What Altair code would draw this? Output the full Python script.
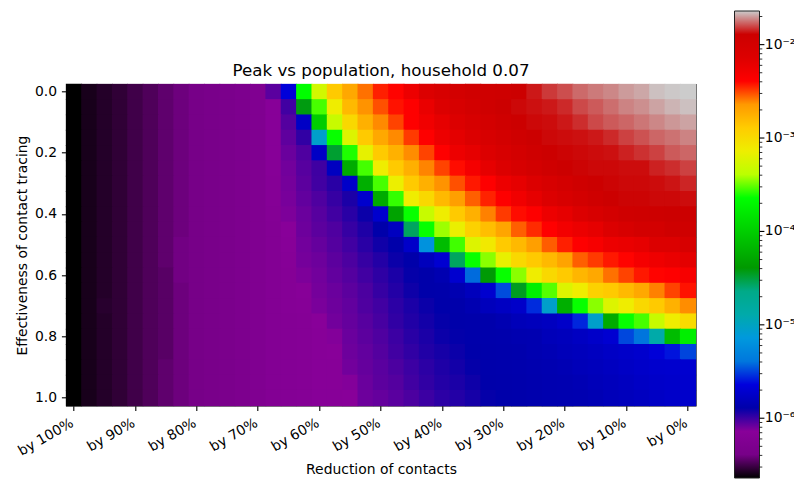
import altair as alt
import numpy as np
import pandas as pd

# ---------------- data ----------------
# columns: reduction of contacts (percent), left to right
reduction_pct = [100, 97.5, 95, 92.5, 90, 87.5, 85, 82.5, 80, 77.5, 75, 72.5, 70,
                 67.5, 65, 62.5, 60, 57.5, 55, 52.5, 50, 47.5, 45, 42.5, 40, 37.5,
                 35, 32.5, 30, 27.5, 25, 22.5, 20, 17.5, 15, 12.5, 10, 7.5, 5, 2.5, 0]
# rows: effectiveness of contact tracing, top to bottom
tracing = [0.0, 0.05, 0.1, 0.15, 0.2, 0.25, 0.3, 0.35, 0.4, 0.45, 0.5,
           0.55, 0.6, 0.65, 0.7, 0.75, 0.8, 0.85, 0.9, 0.95, 1.0]

x_tick_values = [100, 90, 80, 70, 60, 50, 40, 30, 20, 10, 0]
y_tick_values = [0.0, 0.2, 0.4, 0.6, 0.8, 1.0]
cbar_tick_values = [-6, -5, -4, -3, -2]
cbar_tick_labels = ["10⁻⁶", "10⁻⁵", "10⁻⁴", "10⁻³", "10⁻²"]
title_text = "Peak vs population, household 0.07"

# log10(peak / population), one list per tracing row (41 values each)
log_peak_rows = [
    [-6.64, -6.59, -6.565, -6.54, -6.505, -6.475, -6.44, -6.41, -6.39, -6.365, -6.33, -6.30, -6.26,
     -6.055, -5.66, -3.65, -3.28, -2.88, -2.715, -2.575, -2.44,
     -2.395, -2.255, -2.13, -2.055, -1.995, -1.955, -1.93, -1.92, -1.89, -1.86,
     -1.82, -1.795, -1.76, -1.74, -1.725, -1.70, -1.685, -1.655, -1.645, -1.64],
    [-6.64, -6.59, -6.565, -6.54, -6.505, -6.475, -6.44, -6.41, -6.39, -6.365, -6.33, -6.30, -6.26,
     -6.15, -6.01, -4.42, -3.545, -3.13, -2.795, -2.63, -2.52,
     -2.42, -2.38, -2.235, -2.13, -2.055, -1.995, -1.93, -1.89, -1.88, -1.87,
     -1.86, -1.84, -1.80, -1.78, -1.755, -1.73, -1.715, -1.69, -1.67, -1.655],
    [-6.64, -6.59, -6.565, -6.54, -6.505, -6.475, -6.44, -6.41, -6.39, -6.365, -6.33, -6.30, -6.26,
     -6.15, -6.045, -5.76, -4.005, -3.33, -2.98, -2.755, -2.615,
     -2.50, -2.385, -2.285, -2.205, -2.13, -2.055, -1.995, -1.93, -1.89, -1.88,
     -1.875, -1.86, -1.835, -1.80, -1.78, -1.765, -1.745, -1.725, -1.705, -1.69],
    [-6.64, -6.59, -6.565, -6.54, -6.505, -6.475, -6.44, -6.41, -6.39, -6.365, -6.33, -6.30, -6.26,
     -6.15, -6.065, -5.98, -5.045, -3.63, -3.23, -2.88, -2.715,
     -2.615, -2.485, -2.38, -2.255, -2.19, -2.13, -2.055, -1.995, -1.93, -1.89,
     -1.88, -1.875, -1.87, -1.86, -1.84, -1.81, -1.79, -1.765, -1.75, -1.73],
    [-6.64, -6.59, -6.565, -6.54, -6.505, -6.475, -6.44, -6.41, -6.39, -6.365, -6.33, -6.30, -6.26,
     -6.16, -6.085, -6.035, -5.76, -4.48, -3.60, -3.18, -2.88,
     -2.76, -2.62, -2.50, -2.38, -2.255, -2.205, -2.13, -2.055, -1.995, -1.93,
     -1.89, -1.885, -1.88, -1.875, -1.87, -1.85, -1.83, -1.81, -1.78, -1.765],
    [-6.64, -6.59, -6.565, -6.54, -6.505, -6.475, -6.44, -6.41, -6.39, -6.365, -6.33, -6.30, -6.26,
     -6.17, -6.10, -6.05, -6.005, -5.78, -4.255, -3.55, -3.13,
     -2.88, -2.755, -2.605, -2.50, -2.41, -2.32, -2.205, -2.13, -2.055, -1.995,
     -1.93, -1.89, -1.885, -1.88, -1.88, -1.875, -1.875, -1.85, -1.835, -1.81],
    [-6.64, -6.59, -6.565, -6.54, -6.505, -6.475, -6.44, -6.41, -6.39, -6.365, -6.33, -6.30, -6.26,
     -6.18, -6.105, -6.06, -6.01, -5.965, -5.74, -4.23, -3.545,
     -3.15, -2.88, -2.755, -2.63, -2.52, -2.43, -2.38, -2.255, -2.205, -2.13,
     -2.055, -1.995, -1.93, -1.89, -1.885, -1.88, -1.88, -1.875, -1.865, -1.845],
    [-6.64, -6.59, -6.565, -6.54, -6.505, -6.475, -6.44, -6.41, -6.39, -6.365, -6.33, -6.30, -6.26,
     -6.19, -6.11, -6.07, -6.035, -5.99, -5.94, -5.72, -4.255,
     -3.57, -3.13, -2.98, -2.795, -2.67, -2.545, -2.445, -2.38, -2.285, -2.205,
     -2.13, -2.055, -1.995, -1.93, -1.89, -1.885, -1.885, -1.88, -1.88, -1.875],
    [-6.64, -6.59, -6.565, -6.54, -6.505, -6.475, -6.44, -6.41, -6.39, -6.365, -6.33, -6.30, -6.26,
     -6.20, -6.12, -6.085, -6.05, -6.01, -5.965, -5.91, -5.72,
     -4.32, -3.63, -3.33, -3.13, -2.88, -2.755, -2.60, -2.485, -2.41, -2.38,
     -2.255, -2.205, -2.13, -2.055, -1.995, -1.93, -1.925, -1.90, -1.89, -1.89],
    [-6.64, -6.59, -6.565, -6.54, -6.505, -6.475, -6.44, -6.41, -6.39, -6.365, -6.33, -6.30, -6.26,
     -6.21, -6.14, -6.09, -6.06, -6.035, -5.99, -5.945, -5.89,
     -5.78, -4.565, -3.63, -3.43, -3.16, -2.93, -2.82, -2.70, -2.545, -2.46,
     -2.39, -2.30, -2.25, -2.205, -2.13, -2.055, -1.995, -1.99, -1.93, -1.93],
    [-6.64, -6.59, -6.565, -6.54, -6.505, -6.475, -6.44, -6.40, -6.39, -6.365, -6.33, -6.30, -6.26,
     -6.21, -6.16, -6.10, -6.075, -6.045, -6.01, -5.965, -5.92,
     -5.89, -5.74, -5.195, -4.13, -3.555, -3.23, -3.10, -2.88, -2.795, -2.67,
     -2.54, -2.44, -2.38, -2.33, -2.255, -2.235, -2.205, -2.13, -2.12, -2.055],
    [-6.64, -6.59, -6.565, -6.54, -6.505, -6.475, -6.44, -6.40, -6.39, -6.365, -6.33, -6.30, -6.26,
     -6.22, -6.17, -6.105, -6.09, -6.06, -6.03, -5.99, -5.955,
     -5.91, -5.89, -5.80, -5.70, -4.565, -3.63, -3.455, -3.17, -2.98, -2.88,
     -2.795, -2.69, -2.545, -2.485, -2.43, -2.395, -2.32, -2.27, -2.235, -2.19],
    [-6.64, -6.59, -6.565, -6.54, -6.505, -6.475, -6.455, -6.40, -6.39, -6.365, -6.33, -6.30, -6.26,
     -6.22, -6.18, -6.12, -6.10, -6.07, -6.045, -6.01, -5.975,
     -5.94, -5.90, -5.89, -5.855, -5.71, -5.415, -4.40, -3.63, -3.455, -3.13,
     -2.98, -2.88, -2.78, -2.715, -2.575, -2.50, -2.43, -2.395, -2.38, -2.33],
    [-6.64, -6.59, -6.565, -6.54, -6.505, -6.475, -6.455, -6.41, -6.39, -6.365, -6.33, -6.30, -6.26,
     -6.22, -6.19, -6.16, -6.105, -6.085, -6.06, -6.03, -5.99,
     -5.955, -5.915, -5.89, -5.885, -5.855, -5.80, -5.71, -5.48, -4.45, -3.755,
     -3.525, -3.23, -3.13, -2.93, -2.88, -2.795, -2.715, -2.60, -2.50, -2.42],
    [-6.64, -6.59, -6.555, -6.54, -6.505, -6.475, -6.455, -6.41, -6.39, -6.365, -6.33, -6.30, -6.26,
     -6.22, -6.19, -6.17, -6.115, -6.09, -6.07, -6.035, -6.01,
     -5.97, -5.94, -5.91, -5.89, -5.885, -5.855, -5.80, -5.77, -5.74, -5.55,
     -5.045, -4.23, -3.63, -3.455, -3.23, -3.13, -2.98, -2.88, -2.76, -2.62],
    [-6.64, -6.59, -6.565, -6.54, -6.505, -6.475, -6.455, -6.41, -6.39, -6.365, -6.33, -6.30, -6.26,
     -6.22, -6.20, -6.18, -6.14, -6.10, -6.075, -6.05, -6.02,
     -5.98, -5.95, -5.925, -5.90, -5.89, -5.885, -5.88, -5.855, -5.815, -5.80,
     -5.78, -5.74, -5.56, -5.045, -4.255, -3.63, -3.545, -3.33, -3.13, -3.00],
    [-6.64, -6.59, -6.565, -6.54, -6.505, -6.475, -6.455, -6.41, -6.39, -6.365, -6.33, -6.30, -6.26,
     -6.22, -6.20, -6.18, -6.16, -6.13, -6.085, -6.06, -6.035,
     -6.00, -5.965, -5.94, -5.91, -5.895, -5.885, -5.88, -5.875, -5.86, -5.855,
     -5.815, -5.80, -5.77, -5.74, -5.70, -5.49, -5.395, -4.88, -4.13, -3.755],
    [-6.64, -6.59, -6.565, -6.54, -6.505, -6.475, -6.455, -6.41, -6.39, -6.365, -6.33, -6.30, -6.26,
     -6.22, -6.20, -6.18, -6.16, -6.14, -6.09, -6.07, -6.045,
     -6.01, -5.98, -5.95, -5.93, -5.91, -5.89, -5.885, -5.88, -5.875, -5.855,
     -5.84, -5.815, -5.80, -5.78, -5.76, -5.74, -5.72, -5.665, -5.60, -5.495],
    [-6.64, -6.59, -6.565, -6.54, -6.505, -6.475, -6.44, -6.41, -6.39, -6.365, -6.33, -6.30, -6.26,
     -6.22, -6.20, -6.18, -6.16, -6.15, -6.10, -6.075, -6.055,
     -6.03, -6.00, -5.97, -5.945, -5.925, -5.90, -5.885, -5.88, -5.875, -5.865,
     -5.855, -5.84, -5.815, -5.80, -5.78, -5.76, -5.74, -5.72, -5.715, -5.71],
    [-6.64, -6.59, -6.565, -6.54, -6.505, -6.475, -6.44, -6.41, -6.39, -6.365, -6.33, -6.30, -6.26,
     -6.22, -6.20, -6.18, -6.16, -6.15, -6.13, -6.085, -6.06,
     -6.045, -6.01, -5.98, -5.955, -5.94, -5.915, -5.89, -5.885, -5.88, -5.87,
     -5.86, -5.855, -5.84, -5.815, -5.80, -5.78, -5.76, -5.74, -5.73, -5.72],
    [-6.64, -6.59, -6.565, -6.54, -6.505, -6.475, -6.44, -6.41, -6.39, -6.365, -6.33, -6.30, -6.26,
     -6.22, -6.20, -6.18, -6.16, -6.15, -6.14, -6.09, -6.075,
     -6.055, -6.03, -6.00, -5.97, -5.955, -5.93, -5.90, -5.89, -5.885, -5.875,
     -5.865, -5.86, -5.855, -5.84, -5.815, -5.80, -5.78, -5.76, -5.74, -5.73],
]

# colour bar limits (log10)
CB_MIN, CB_MAX = -6.64, -1.64

# nipy_spectral colormap stops (matplotlib definition)
NIPY = ["#000000", "#770088", "#880099", "#0000aa", "#0000dd", "#0077dd", "#0099dd",
        "#00aaaa", "#00aa88", "#009900", "#00bb00", "#00dd00", "#00ff00", "#bbff00",
        "#eeee00", "#ffcc00", "#ff9900", "#ff0000", "#dd0000", "#cc0000", "#cccccc"]

# ---------------- build tables ----------------
records = []
for j, t in enumerate(tracing):
    for i, r in enumerate(reduction_pct):
        records.append({"reduction": r, "tracing": t, "log_peak": log_peak_rows[j][i]})
df = pd.DataFrame(records)

n = len(NIPY)
stop_fracs = [k / (n - 1) for k in range(n)]
color_domain = [CB_MIN + f * (CB_MAX - CB_MIN) for f in stop_fracs]
color_scale = alt.Scale(domain=color_domain, range=NIPY, interpolate="rgb", clamp=True)

# ---------------- layout (pixels) ----------------
W, H = 629.4, 321.4
PAD = {"left": 58.3, "top": 76.3, "right": 98.3, "bottom": 73.3}
CB_X0, CB_X1 = 668.2, 693.2          # colour bar left/right, relative to plot area
CB_TOP, CB_BOTTOM = -73.3, 393.7     # colour bar top/bottom, relative to plot area

FONT = "DejaVu Sans"
LBL = 13.9
TICK = 4.9

heat = alt.Chart(df).mark_rect(
    width=alt.RelativeBandSize(1.06), height=alt.RelativeBandSize(1.06)
).encode(
    x=alt.X("reduction:O",
            scale=alt.Scale(domain=reduction_pct, paddingInner=0, paddingOuter=0),
            axis=alt.Axis(values=x_tick_values,
                          labelExpr="'by ' + datum.value + '%'",
                          labelAngle=330, labelAlign="right", labelBaseline="top",
                          labelOffset=-5, labelPadding=4.9,
                          tickSize=TICK, tickWidth=1.1, tickColor="black",
                          domain=False, grid=False,
                          labelFontSize=LBL, labelColor="black", labelFont=FONT,
                          title="Reduction of contacts", titleFontSize=LBL,
                          titleFontWeight="normal", titleColor="black", titleFont=FONT,
                          titlePadding=4)),
    y=alt.Y("tracing:O",
            scale=alt.Scale(domain=tracing, paddingInner=0, paddingOuter=0),
            axis=alt.Axis(values=y_tick_values,
                          labelExpr="format(datum.value, '.1f')",
                          labelPadding=4.9, tickSize=TICK, tickWidth=1.1, tickColor="black",
                          domain=False, grid=False,
                          labelFontSize=LBL, labelColor="black", labelFont=FONT,
                          title="Effectiveness of contact tracing", titleFontSize=LBL,
                          titleFontWeight="normal", titleColor="black", titleFont=FONT,
                          titlePadding=5)),
    color=alt.Color("log_peak:Q", scale=color_scale, legend=None),
)

cb_scale = alt.Scale(domain=[CB_MIN, CB_MAX], range=[CB_BOTTOM, CB_TOP], nice=False, zero=False)

cbar_df = pd.DataFrame({"lo": [CB_MIN], "hi": [CB_MAX]})
cbar = alt.Chart(cbar_df).mark_rect(
    fill=alt.Gradient(gradient="linear",
                      stops=[alt.GradientStop(offset=f, color=c) for f, c in zip(stop_fracs, NIPY)],
                      x1=0, x2=0, y1=1, y2=0),
    stroke="#222222", strokeWidth=1,
).encode(
    y=alt.Y("lo:Q", scale=cb_scale, axis=None),
    y2="hi:Q",
    x=alt.value(CB_X0),
    x2=alt.value(CB_X1),
)

minor_vals = [e + float(np.log10(k)) for e in range(-7, -1) for k in range(2, 10)
              if CB_MIN <= e + np.log10(k) <= CB_MAX]
minor = alt.Chart(pd.DataFrame({"m": minor_vals})).mark_rule(color="black", strokeWidth=0.8).encode(
    y=alt.Y("m:Q", scale=cb_scale, axis=None),
    x=alt.value(CB_X1),
    x2=alt.value(CB_X1 + 2.8),
)

major_df = pd.DataFrame({"v": cbar_tick_values, "lab": cbar_tick_labels})
major = alt.Chart(major_df).mark_rule(color="black", strokeWidth=1.1).encode(
    y=alt.Y("v:Q", scale=cb_scale, axis=None),
    x=alt.value(CB_X1),
    x2=alt.value(CB_X1 + TICK),
)
major_lab = alt.Chart(major_df).mark_text(
    align="left", baseline="middle", font=FONT, fontSize=LBL, color="black"
).encode(
    y=alt.Y("v:Q", scale=cb_scale, axis=None),
    x=alt.value(CB_X1 + 5.3),
    text="lab:N",
)

title = alt.Chart(pd.DataFrame({"t": [title_text]})).mark_text(
    align="center", baseline="alphabetic", font=FONT, fontSize=16.7, color="black"
).encode(
    x=alt.value(W / 2),
    y=alt.value(-8.8),
    text="t:N",
)

chart = alt.layer(
    heat, alt.layer(cbar, minor, major, major_lab, title)
).resolve_scale(
    y="independent"
).properties(
    width=W, height=H,
    padding=PAD,
    autosize=alt.AutoSizeParams(type="none"),
).configure_view(stroke="black", strokeWidth=1.2)

chart.save("out.html", embed_options={"renderer": "svg", "actions": False})
